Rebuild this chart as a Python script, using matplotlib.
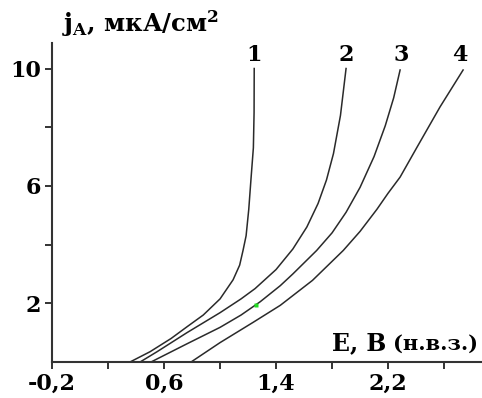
import numpy as np
import matplotlib
matplotlib.use("Agg")
import matplotlib.pyplot as plt

plt.rcParams["font.family"] = "DejaVu Serif"
plt.rcParams["font.weight"] = "bold"
plt.rcParams["mathtext.fontset"] = "dejavuserif"

# polarisation curves: E (V) vs j_A (uA/cm2)
e1 = [0.357, 0.50, 0.65, 0.764, 0.88, 1.00, 1.093, 1.14, 1.164, 1.186, 1.205, 1.222, 1.238, 1.243, 1.244]
j1 = [0.00, 0.35, 0.80, 1.20, 1.60, 2.15, 2.80, 3.30, 3.80, 4.30, 5.20, 6.30, 7.30, 8.50, 10.00]

e2 = [0.429, 0.55, 0.764, 1.00, 1.15, 1.25, 1.40, 1.52, 1.62, 1.70, 1.76, 1.81, 1.86, 1.90]
j2 = [0.00, 0.35, 1.00, 1.68, 2.15, 2.50, 3.15, 3.85, 4.60, 5.40, 6.20, 7.10, 8.40, 10.00]

e3 = [0.507, 0.764, 1.00, 1.15, 1.286, 1.43, 1.52, 1.69, 1.80, 1.90, 2.00, 2.10, 2.18, 2.24, 2.286]
j3 = [0.00, 0.62, 1.18, 1.60, 2.05, 2.60, 3.00, 3.80, 4.40, 5.10, 5.95, 7.00, 8.05, 9.00, 9.95]

e4 = [0.793, 1.00, 1.236, 1.43, 1.66, 1.88, 2.00, 2.12, 2.20, 2.286, 2.407, 2.571, 2.736]
j4 = [0.00, 0.66, 1.35, 1.93, 2.78, 3.80, 4.45, 5.20, 5.75, 6.30, 7.32, 8.69, 9.95]

curve_names = ["1", "2", "3", "4"]
label_x = [1.243, 1.900, 2.293, 2.714]

xticks = [-0.2, 0.2, 0.6, 1.0, 1.4, 1.8, 2.2, 2.6]
xtick_labels = ["-0,2", "", "0,6", "", "1,4", "", "2,2", ""]
yticks = [2, 4, 6, 8, 10]
ytick_labels = ["2", "", "6", "", "10"]

fig = plt.figure(figsize=(4.82, 3.98), dpi=100)
ax = fig.add_axes([0.108, 0.0905, 0.892, 0.8015])

line_kw = dict(color="#2a2a2a", lw=1.1)
for e, j in [(e1, j1), (e2, j2), (e3, j3), (e4, j4)]:
    ax.plot(e, j, **line_kw)

# small green speck sitting on curve 3 in the original scan
ax.plot([1.257], [1.95], "s", color="#22dd22", ms=2.5, mec="none")

for name, x in zip(curve_names, label_x):
    ax.text(x, 10.25, name, ha="center", va="baseline", fontsize=16,
            fontweight="bold")

ax.set_xlim(-0.2, 2.871)
ax.set_ylim(0, 10.87)
ax.set_xticks(xticks)
ax.set_xticklabels(xtick_labels)
ax.set_yticks(yticks)
ax.set_yticklabels(ytick_labels)
ax.tick_params(direction="out", length=5, width=1.4, color="#333333",
               labelsize=16, pad=3)
for lab in ax.get_xticklabels() + ax.get_yticklabels():
    lab.set_fontweight("bold")

for s in ("top", "right"):
    ax.spines[s].set_visible(False)
for s in ("left", "bottom"):
    ax.spines[s].set_linewidth(1.5)
    ax.spines[s].set_color("#333333")

# axis captions
fig.text(62 / 482, 1 - 32 / 398, r"$\mathbf{j_A}$, мкА/см$^\mathbf{2}$",
         ha="left", va="baseline", fontsize=17.5, fontweight="bold")
fig.text(332 / 482, 1 - 350 / 398, "E, B", ha="left", va="baseline",
         fontsize=17, fontweight="bold")
fig.text(393 / 482, 1 - 350 / 398, "(н.в.з.)", ha="left", va="baseline",
         fontsize=15, fontweight="bold")

fig.savefig("out.png", dpi=100)
